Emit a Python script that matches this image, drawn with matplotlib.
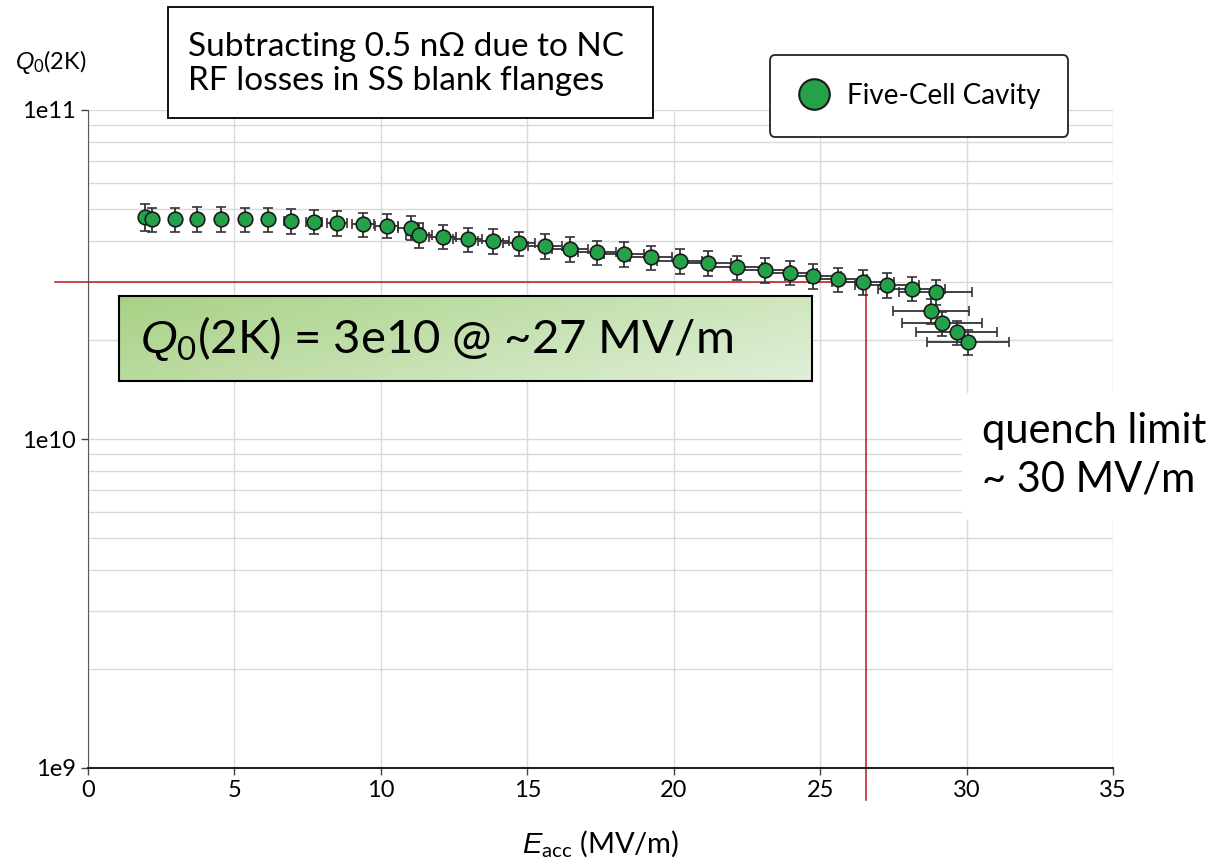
import numpy as np
import matplotlib
matplotlib.use("Agg")
import matplotlib.pyplot as plt
from matplotlib.lines import Line2D
from matplotlib.patches import Rectangle

# data
e_acc = [1.95, 2.17, 2.97, 3.73, 4.53, 5.36, 6.16, 6.92, 7.72, 8.51,
         9.40, 10.20, 11.02, 11.30, 12.11, 12.96, 13.84, 14.71, 15.60, 16.46,
         17.38, 18.30, 19.22, 20.20, 21.17, 22.16, 23.11, 23.97, 24.75, 25.61,
         26.46, 27.28, 28.13, 28.95, 28.78, 29.16, 29.67, 30.04]
q0 = [4.74, 4.65, 4.65, 4.66, 4.66, 4.65, 4.65, 4.60, 4.58, 4.54,
      4.49, 4.45, 4.39, 4.17, 4.12, 4.05, 4.00, 3.93, 3.86, 3.78,
      3.70, 3.65, 3.57, 3.48, 3.43, 3.33, 3.26, 3.20, 3.13, 3.06,
      3.00, 2.94, 2.86, 2.80, 2.45, 2.25, 2.11, 1.97]  # x 1e10
e_err = [0.10, 0.10, 0.10, 0.10, 0.12, 0.14, 0.17, 0.22, 0.28, 0.34,
         0.38, 0.40, 0.42, 0.44, 0.46, 0.50, 0.52, 0.55, 0.58, 0.62,
         0.65, 0.68, 0.72, 0.76, 0.80, 0.84, 0.88, 0.92, 0.96, 1.00,
         1.05, 1.10, 1.15, 1.25, 1.30, 1.35, 1.38, 1.40]
q0_err = [0.44, 0.40, 0.40, 0.40, 0.40, 0.40, 0.40, 0.39, 0.39, 0.39,
          0.38, 0.38, 0.37, 0.35, 0.35, 0.34, 0.34, 0.33, 0.33, 0.32,
          0.31, 0.31, 0.30, 0.30, 0.29, 0.28, 0.28, 0.27, 0.27, 0.26,
          0.26, 0.25, 0.24, 0.24, 0.21, 0.19, 0.18, 0.17]  # x 1e10

q_mark = 3e10      # Q0 = 3e10 marker line
e_mark = 26.55     # field where Q0 reaches 3e10
y_ticks = [1e9, 1e10, 1e11]
y_ticklabels = ["1e9", "1e10", "1e11"]
x_ticks = [0, 5, 10, 15, 20, 25, 30, 35]

green = "#23a24a"
red = "#c0282d"

plt.rcParams["font.family"] = ["Lato", "DejaVu Sans"]
plt.rcParams["mathtext.fontset"] = "custom"
plt.rcParams["mathtext.rm"] = "Lato"
plt.rcParams["mathtext.it"] = "Liberation Sans:italic"

W, H = 1222, 865
fig = plt.figure(figsize=(W / 100, H / 100), dpi=100)
ax = fig.add_axes([88 / W, 1 - 768 / H, (1113 - 88) / W, (768 - 110) / H])

q = np.array(q0) * 1e10
qe = np.array(q0_err) * 1e10
ax.errorbar(e_acc, q, xerr=e_err, yerr=qe, fmt="o", mfc=green, mec="#1a1a1a",
            mew=1.2, ms=10.5, ecolor="#333333", elinewidth=1.3, capsize=3.5,
            capthick=1.3, zorder=3)

# red guide lines, they run past the axes
ax.plot([-1.13, e_mark], [q_mark, q_mark], color=red, lw=1.2, clip_on=False, zorder=2)
ax.plot([e_mark, e_mark], [q_mark, 8.0e8], color=red, lw=1.2, clip_on=False, zorder=2)

ax.set_yscale("log")
ax.set_xlim(0, 35)
ax.set_ylim(1e9, 1e11)
ax.set_xticks(x_ticks)
ax.set_yticks(y_ticks)
ax.set_yticklabels(y_ticklabels)
ax.tick_params(axis="both", labelsize=17, length=5, width=1, color="#444444")
ax.tick_params(axis="y", which="minor", length=0)
ax.grid(True, which="both", color="#d9d9d9", lw=1)
ax.set_axisbelow(True)
for s in ["top", "right"]:
    ax.spines[s].set_visible(False)
ax.spines["left"].set_color("#555555")
ax.spines["bottom"].set_color("#222222")
ax.spines["bottom"].set_linewidth(1.5)

ax.set_xlabel(r"$E_{\mathrm{acc}}$ (MV/m)", fontsize=21, labelpad=20)
fig.text(15 / W, 1 - 62 / H, r"$Q_0$(2K)", fontsize=17, va="center", ha="left")

# legend
h = Line2D([], [], marker="o", ls="", mfc=green, mec="#1a1a1a", mew=1.5, ms=22)
leg = ax.legend([h], ["Five-Cell Cavity"], loc="center",
                bbox_to_anchor=(919 / W, 1 - 96 / H), bbox_transform=fig.transFigure,
                fontsize=20, frameon=True, fancybox=True, borderpad=1.0,
                handletextpad=0.6, handlelength=1.2, framealpha=1)
leg.get_frame().set_edgecolor("#222222")
leg.get_frame().set_linewidth(1.3)

# note box at top
fig.add_artist(Rectangle((168 / W, 1 - 118 / H), 485 / W, 111 / H,
                         transform=fig.transFigure, fc="white", ec="black", lw=1.3))
fig.text(188 / W, 1 - 64 / H, "Subtracting 0.5 n\u03a9 due to NC\nRF losses in SS blank flanges",
         fontsize=24, va="center", ha="left", linespacing=1.15)

# green gradient box
gax = fig.add_axes([119 / W, 1 - 381 / H, 693 / W, 85 / H])
gx, gy = np.meshgrid(np.linspace(0, 1, 200), np.linspace(0, 1, 50))
t = (gx * 0.7 + gy * 0.3)
c0 = np.array([0.66, 0.82, 0.52])
c1 = np.array([0.88, 0.94, 0.85])
img = c0[None, None, :] * (1 - t[..., None]) + c1[None, None, :] * t[..., None]
gax.imshow(img, aspect="auto", extent=[0, 1, 0, 1], origin="upper")
gax.set_xticks([])
gax.set_yticks([])
for s in gax.spines.values():
    s.set_linewidth(1.5)
gax.text(21 / 693, 0.5, r"$Q_0$(2K) = 3e10 @ ~27 MV/m", fontsize=34,
         va="center", ha="left", transform=gax.transAxes)

# quench text, white backed
fig.add_artist(Rectangle((962 / W, 1 - 520 / H), 260 / W, 127 / H,
                         transform=fig.transFigure, fc="white", ec="none"))
fig.text(982 / W, 1 - 455 / H, "quench limit\n~ 30 MV/m", fontsize=30,
         va="center", ha="left", linespacing=1.35)

fig.savefig("out.png", dpi=100)
